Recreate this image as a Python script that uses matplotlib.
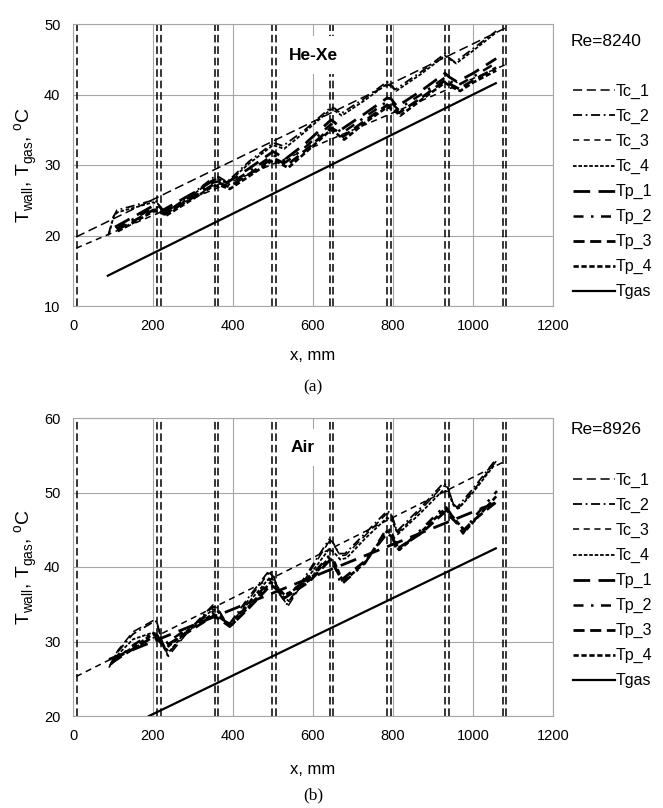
import matplotlib
matplotlib.use('Agg')
import matplotlib.pyplot as plt

plt.rcParams['font.family'] = ['Liberation Sans', 'DejaVu Sans']
plt.rcParams['mathtext.fontset'] = 'custom'
plt.rcParams['mathtext.rm'] = 'Liberation Sans'

# positions of the vertical marker lines, mm
vlines_x = [10, 210, 219, 355, 363, 497, 507, 642, 651, 786, 795, 930, 940, 1074, 1083]

# ---- (a) He-Xe, Re=8240
a_tc1_x = [8, 1080]
a_tc1_y = [19.8, 49.4]
a_tc3_x = [8, 1080]
a_tc3_y = [18.2, 44.2]
a_tc2_x = [88, 100, 110, 150, 200, 210, 225, 240, 300, 350, 365, 385, 440, 500, 510, 525, 580,
           645, 655, 670, 730, 785, 795, 805, 870, 930, 940, 955, 1000, 1058]
a_tc2_y = [20.0, 22.5, 23.6, 24.2, 25.0, 24.8, 23.5, 23.6, 26.0, 28.2, 28.3, 27.6, 30.5, 33.1, 33.0, 32.7, 35.0,
           38.2, 38.0, 37.3, 39.5, 41.8, 41.4, 40.7, 43.2, 45.8, 45.2, 44.6, 46.5, 49.0]
a_tc4_x = [90, 102, 112, 150, 200, 212, 228, 245, 300, 350, 365, 385, 440, 500, 512, 528, 580,
           645, 657, 672, 730, 785, 797, 808, 870, 930, 942, 958, 1000, 1058]
a_tc4_y = [20.2, 22.8, 23.3, 23.9, 24.7, 24.5, 23.3, 23.5, 25.8, 27.9, 28.0, 27.4, 30.2, 32.8, 32.6, 32.3, 34.7,
           37.9, 37.6, 37.0, 39.2, 41.5, 41.1, 40.5, 42.9, 45.5, 45.0, 44.4, 46.2, 48.8]
a_tp1_x = [105, 150, 200, 210, 225, 300, 350, 365, 385, 440, 500, 510, 530, 580, 645, 655, 670,
           730, 785, 795, 810, 870, 930, 940, 960, 1000, 1058]
a_tp1_y = [21.2, 22.6, 24.2, 24.4, 23.6, 26.0, 27.8, 28.0, 27.5, 29.5, 31.9, 31.6, 30.8, 33.0, 36.4, 36.0, 35.0,
           37.3, 39.5, 39.4, 38.3, 40.5, 43.0, 42.5, 41.8, 43.0, 45.1]
a_tp2_x = [108, 150, 200, 212, 228, 300, 350, 365, 388, 440, 500, 512, 532, 580, 645, 657, 672,
           730, 785, 797, 812, 870, 930, 942, 962, 1000, 1058]
a_tp2_y = [21.0, 22.3, 23.9, 24.0, 23.3, 25.7, 27.5, 27.7, 27.2, 29.1, 31.4, 31.1, 30.4, 32.5, 35.8, 35.4, 34.5,
           36.8, 39.0, 38.8, 37.9, 40.0, 42.4, 41.9, 41.3, 42.5, 44.5]
a_tp3_x = [110, 150, 200, 215, 230, 300, 350, 368, 390, 440, 500, 515, 535, 580, 645, 660, 675,
           730, 785, 800, 815, 870, 930, 945, 965, 1000, 1058]
a_tp3_y = [20.8, 22.0, 23.6, 23.7, 23.0, 25.4, 27.2, 27.4, 26.9, 28.7, 31.0, 30.6, 30.0, 32.0, 35.3, 34.8, 34.0,
           36.3, 38.5, 38.3, 37.4, 39.5, 42.0, 41.4, 40.8, 42.0, 43.8]
a_tp4_x = [112, 150, 200, 215, 232, 300, 350, 368, 392, 440, 500, 515, 538, 580, 645, 660, 678,
           730, 785, 800, 818, 870, 930, 945, 968, 1000, 1058]
a_tp4_y = [20.6, 21.8, 23.4, 23.5, 22.8, 25.2, 27.0, 27.1, 26.6, 28.4, 30.7, 30.3, 29.6, 31.7, 35.0, 34.4, 33.6,
           36.0, 38.2, 37.9, 37.0, 39.2, 41.7, 41.1, 40.5, 41.7, 43.4]
a_tgas_x = [87, 1057]
a_tgas_y = [14.3, 41.6]

# ---- (b) Air, Re=8926
b_tc3_x = [8, 1080]
b_tc3_y = [25.3, 54.2]
b_tp1_x = [90, 1060]
b_tp1_y = [27.6, 48.7]
b_tc2_x = [90, 110, 150, 200, 208, 220, 235, 280, 350, 360, 375, 390, 440, 490, 500, 515, 535, 590,
           640, 650, 665, 680, 730, 785, 795, 810, 870, 925, 935, 950, 960, 1000, 1058]
b_tc2_y = [26.5, 28.5, 31.0, 32.6, 32.7, 30.5, 28.2, 31.0, 34.9, 34.6, 33.2, 32.3, 36.0, 39.5, 39.0, 36.5, 35.0, 39.5,
           43.7, 43.3, 41.8, 41.8, 44.5, 47.5, 47.2, 44.8, 48.0, 51.2, 51.0, 48.5, 48.0, 50.5, 54.5]
b_tc1_x = [92, 112, 150, 200, 210, 222, 238, 280, 350, 362, 378, 392, 440, 490, 502, 518, 538, 590,
           640, 652, 668, 682, 730, 785, 797, 812, 870, 925, 937, 952, 962, 1000, 1058]
b_tc1_y = [26.8, 28.8, 31.3, 32.8, 32.6, 30.2, 28.0, 30.8, 34.7, 34.4, 33.0, 32.1, 35.7, 39.2, 38.7, 36.2, 34.8, 39.2,
           43.4, 43.0, 41.5, 41.6, 44.2, 47.2, 46.9, 44.6, 47.7, 50.9, 50.7, 48.3, 47.8, 50.2, 54.2]
b_tc4_x = [95, 115, 150, 200, 210, 225, 240, 280, 350, 362, 378, 395, 440, 492, 502, 518, 540, 590,
           640, 652, 668, 684, 730, 785, 797, 812, 870, 925, 937, 952, 965, 1000, 1055]
b_tc4_y = [26.9, 28.4, 30.3, 31.2, 31.0, 29.6, 28.6, 31.2, 34.3, 34.0, 32.8, 32.4, 35.3, 38.6, 38.2, 36.4, 35.4, 38.8,
           42.4, 42.0, 41.0, 41.2, 43.8, 46.6, 46.3, 44.4, 47.3, 50.3, 50.1, 48.2, 47.9, 50.0, 53.8]
b_tp2_x = [95, 150, 200, 210, 225, 280, 350, 365, 390, 440, 495, 505, 525, 590, 640, 650, 670,
           730, 785, 795, 810, 870, 930, 940, 975, 1000, 1060]
b_tp2_y = [27.0, 29.5, 31.2, 30.8, 29.5, 31.5, 34.0, 33.5, 32.2, 35.0, 38.3, 37.8, 36.0, 38.5, 41.5, 41.0, 37.6,
           40.5, 45.2, 44.8, 42.0, 45.0, 48.2, 47.5, 44.5, 46.5, 50.2]
b_tp3_x = [98, 150, 200, 212, 228, 280, 350, 366, 392, 440, 495, 507, 528, 590, 640, 652, 672,
           730, 785, 797, 812, 870, 930, 942, 978, 1000, 1060]
b_tp3_y = [27.2, 29.0, 30.6, 30.3, 29.3, 31.0, 33.4, 33.0, 32.0, 34.5, 37.6, 37.1, 35.8, 38.0, 40.8, 40.2, 38.3,
           40.8, 44.5, 44.1, 42.5, 44.5, 47.4, 46.8, 45.0, 46.2, 48.8]
b_tp4_x = [100, 150, 200, 214, 230, 280, 350, 368, 395, 440, 495, 508, 530, 590, 640, 654, 675,
           730, 785, 798, 815, 870, 930, 944, 980, 1000, 1060]
b_tp4_y = [27.4, 29.2, 31.0, 30.6, 29.0, 31.2, 33.7, 33.2, 32.1, 34.7, 38.0, 37.4, 36.2, 38.2, 41.2, 40.6, 38.0,
           40.6, 44.8, 44.4, 42.3, 44.7, 47.8, 47.1, 44.8, 46.0, 49.6]
b_tgas_x = [190, 1057]
b_tgas_y = [20.0, 42.5]

styles = {
    'Tc_1': dict(ls=(0, (6, 3)), lw=1.1),
    'Tc_2': dict(ls=(0, (5, 2, 1, 2)), lw=1.3),
    'Tc_3': dict(ls=(0, (4, 3)), lw=1.1),
    'Tc_4': dict(ls=(0, (2, 1)), lw=1.3),
    'Tp_1': dict(ls=(0, (6, 3)), lw=2.0),
    'Tp_2': dict(ls=(0, (4, 3, 1, 3)), lw=1.8),
    'Tp_3': dict(ls=(0, (4, 2)), lw=2.0),
    'Tp_4': dict(ls=(0, (2, 1)), lw=1.9),
    'Tgas': dict(ls='-', lw=1.6),
}

panel_a = {
    'Tc_1': (a_tc1_x, a_tc1_y), 'Tc_2': (a_tc2_x, a_tc2_y), 'Tc_3': (a_tc3_x, a_tc3_y),
    'Tc_4': (a_tc4_x, a_tc4_y), 'Tp_1': (a_tp1_x, a_tp1_y), 'Tp_2': (a_tp2_x, a_tp2_y),
    'Tp_3': (a_tp3_x, a_tp3_y), 'Tp_4': (a_tp4_x, a_tp4_y), 'Tgas': (a_tgas_x, a_tgas_y),
}
panel_b = {
    'Tc_1': (b_tc1_x, b_tc1_y), 'Tc_2': (b_tc2_x, b_tc2_y), 'Tc_3': (b_tc3_x, b_tc3_y),
    'Tc_4': (b_tc4_x, b_tc4_y), 'Tp_1': (b_tp1_x, b_tp1_y), 'Tp_2': (b_tp2_x, b_tp2_y),
    'Tp_3': (b_tp3_x, b_tp3_y), 'Tp_4': (b_tp4_x, b_tp4_y), 'Tgas': (b_tgas_x, b_tgas_y),
}

W, H = 663, 808
fig = plt.figure(figsize=(W / 100, H / 100), dpi=100)


def px_axes(l, t, r, b):
    return fig.add_axes([l / W, 1 - b / H, (r - l) / W, (b - t) / H])


def draw(ax, data, ylim, yticks, gas, gas_xy, re_txt, legend_top, xlab_y, cap_y, cap):
    ax.set_xlim(0, 1200)
    ax.set_ylim(*ylim)
    ax.set_xticks(range(0, 1201, 200))
    ax.set_yticks(yticks)
    ax.grid(True, color='#a6a6a6', lw=0.8)
    ax.set_axisbelow(True)
    ax.tick_params(length=0, labelsize=10.5, pad=9)
    for s in ax.spines.values():
        s.set_color('#a6a6a6')
    for xv in vlines_x:
        ax.axvline(xv, color='black', lw=1.1, ls=(0, (5, 2.5)), zorder=2)
    for name, (xs, ys) in data.items():
        ax.plot(xs, ys, color='black', label=name, zorder=3, **styles[name])
    ax.text(gas_xy[0], gas_xy[1], gas, ha='center', va='center', fontsize=12.5, fontweight='bold',
            bbox=dict(fc='white', ec='none', pad=8), zorder=5)
    ax.set_ylabel(r'T$_{\mathregular{wall}}$, T$_{\mathregular{gas}}$, $^{\mathregular{o}}$C', fontsize=14, labelpad=3)
    fig.text(313 / W, 1 - xlab_y / H, 'x, mm', ha='center', va='center', fontsize=12)
    fig.text(313 / W, 1 - cap_y / H, cap, ha='center', va='center', fontsize=12.5, family='Liberation Serif')
    fig.text(571 / W, 1 - legend_top[0] / H, re_txt, ha='left', va='center', fontsize=12.5)
    fig.legend(*ax.get_legend_handles_labels(), loc='upper left',
               bbox_to_anchor=(573 / W, 1 - legend_top[1] / H), frameon=False, fontsize=11.5,
               handlelength=2.6, handletextpad=0.1, labelspacing=0.62, borderpad=0, borderaxespad=0)


ax1 = px_axes(73, 24, 553, 306)
draw(ax1, panel_a, (10, 50), range(10, 51, 10), 'He-Xe', (600, 45.6), 'Re=8240', (42, 84),
     355, 387, '(a)')
ax2 = px_axes(73, 418, 553, 716)
draw(ax2, panel_b, (20, 60), range(20, 61, 10), 'Air', (575, 56.0), 'Re=8926', (430, 473),
     769, 795, '(b)')

fig.savefig('out.png', dpi=100)
